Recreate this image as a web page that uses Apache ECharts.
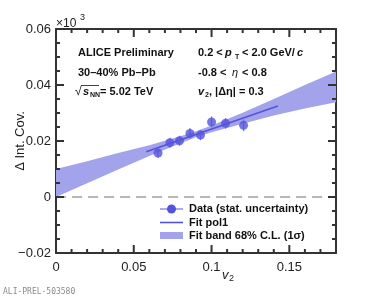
<!DOCTYPE html>
<html><head><meta charset="utf-8">
<script src="https://cdn.jsdelivr.net/npm/echarts@6/dist/echarts.min.js"></script>
<style>html,body{margin:0;padding:0;background:#fff}#c{width:374px;height:297px}</style>
</head><body><div id="c"></div>
<script>
// ---- data ----
const v2Values  = [0.0656, 0.0732, 0.0794, 0.0861, 0.0929, 0.1000, 0.1090, 0.1206];
const covValues = [0.0157, 0.0194, 0.0201, 0.0227, 0.0221, 0.0268, 0.0263, 0.0256];
const covErrors = [0.0018, 0.0018, 0.0018, 0.0019, 0.0018, 0.0020, 0.0019, 0.0021];
const fitX = [0.058, 0.1426];
const fitY = [0.0162, 0.0325];
const bandX    = [0.00, 0.02, 0.04, 0.06, 0.08, 0.09, 0.10, 0.12, 0.14, 0.16, 0.18];
const bandLow  = [0.0000, 0.0049, 0.0098, 0.0146, 0.0192, 0.0213, 0.0231, 0.0262, 0.0291, 0.0316, 0.0338];
const bandHigh = [0.0100, 0.0128, 0.0157, 0.0185, 0.0217, 0.0235, 0.0255, 0.0301, 0.0350, 0.0400, 0.0448];
const zeroLineX = [0, 0.18];
const xRange = [0, 0.18];
const yRange = [-0.02, 0.06];
const xMajorTicks = [0, 0.05, 0.10, 0.15];
const xMinorTicks = [0.01, 0.02, 0.03, 0.04, 0.06, 0.07, 0.08, 0.09, 0.11, 0.12, 0.13, 0.14, 0.16, 0.17];
const yMajorTicks = [-0.02, 0, 0.02, 0.04, 0.06];
const yMinorTicks = [-0.015, -0.01, -0.005, 0.005, 0.01, 0.015, 0.025, 0.03, 0.035, 0.045, 0.05, 0.055];
const legendLabels = ['Data (stat. uncertainty)', 'Fit pol1', 'Fit band 68% C.L. (1σ)'];

const BLUE = '#5353dc';
const BAND = '#a3a3ec';
const AX = '#333333';
const FONT = '"Liberation Sans", Arial, Helvetica, sans-serif';

const chart = echarts.init(document.getElementById('c'));

function yFmt(v) {
  if (Math.abs(v) < 1e-9) return '0';
  const s = Math.abs(v).toFixed(2);
  return v < 0 ? '\u22120' + s.slice(1) : s;
}
function xFmt(v) {
  const r = Math.round(v * 100) / 100;
  if (Math.abs(r / 0.05 - Math.round(r / 0.05)) > 1e-6) return '';
  if (r === 0) return '0';
  return String(r);
}

// tick records: [value, position on other axis, axis(0=x,1=y), length]
const tickData = []
  .concat(xMajorTicks.map(v => [v, 0, 0, 8]))
  .concat(xMinorTicks.map(v => [v, 0, 0, 4]))
  .concat(yMajorTicks.map(v => [0, v, 1, 8]))
  .concat(yMinorTicks.map(v => [0, v, 1, 4]));

const option = {
  animation: false,
  backgroundColor: '#fff',
  grid: {left: 56, right: 38, top: 29, bottom: 44},
  xAxis: [
    {type: 'value', min: xRange[0], max: xRange[1], interval: 0.05, position: 'bottom',
      axisLine: {show: true, onZero: false, lineStyle: {color: AX, width: 2}},
      axisTick: {show: false}, splitLine: {show: false},
      axisLabel: {show: true, formatter: xFmt, showMaxLabel: false, margin: 8, color: '#222', fontSize: 13, fontFamily: FONT}},
    {type: 'value', min: xRange[0], max: xRange[1], interval: 0.05, position: 'top',
      axisLine: {show: true, onZero: false, lineStyle: {color: AX, width: 2}},
      axisTick: {show: false}, splitLine: {show: false}, axisLabel: {show: false}}
  ],
  yAxis: [
    {type: 'value', min: yRange[0], max: yRange[1], interval: 0.02, position: 'left',
      axisLine: {show: true, onZero: false, lineStyle: {color: AX, width: 2}},
      axisTick: {show: false}, splitLine: {show: false},
      axisLabel: {show: true, formatter: yFmt, margin: 5, color: '#222', fontSize: 13, fontFamily: FONT}},
    {type: 'value', min: yRange[0], max: yRange[1], interval: 0.02, position: 'right',
      axisLine: {show: true, onZero: false, lineStyle: {color: AX, width: 2}},
      axisTick: {show: false}, splitLine: {show: false}, axisLabel: {show: false}}
  ],
  series: [
    {
      type: 'custom', name: 'band', xAxisIndex: 0, yAxisIndex: 0, z: 1, silent: true,
      data: [0],
      renderItem: function (params, api) {
        const pts = [];
        for (let i = 0; i < bandX.length; i++) pts.push(api.coord([bandX[i], bandHigh[i]]));
        for (let i = bandX.length - 1; i >= 0; i--) pts.push(api.coord([bandX[i], bandLow[i]]));
        return {type: 'polygon', shape: {points: pts}, style: {fill: BAND, stroke: null}};
      }
    },
    {
      type: 'line', name: 'zero', xAxisIndex: 0, yAxisIndex: 0, z: 2, silent: true,
      data: zeroLineX.map(x => [x, 0]), symbol: 'none',
      lineStyle: {color: '#a0a0a0', width: 1.5, type: [10, 6]}
    },
    {
      type: 'line', name: 'fit', xAxisIndex: 0, yAxisIndex: 0, z: 3, silent: true,
      data: fitX.map((x, i) => [x, fitY[i]]), symbol: 'none',
      lineStyle: {color: BLUE, width: 1.6}
    },
    {
      type: 'custom', name: 'err', xAxisIndex: 0, yAxisIndex: 0, z: 4, silent: true,
      data: v2Values.map((x, i) => [x, covValues[i], covErrors[i]]),
      renderItem: function (params, api) {
        const x = api.value(0), y = api.value(1), e = api.value(2);
        const a = api.coord([x, y - e]), b = api.coord([x, y + e]);
        return {type: 'line', shape: {x1: a[0], y1: a[1], x2: b[0], y2: b[1]},
          style: {stroke: '#7b7be6', lineWidth: 1.2}};
      }
    },
    {
      type: 'scatter', name: 'data', xAxisIndex: 0, yAxisIndex: 0, z: 5, silent: true,
      data: v2Values.map((x, i) => [x, covValues[i]]),
      symbol: 'circle', symbolSize: 9, itemStyle: {color: BLUE}
    },
    {
      type: 'custom', name: 'ticks', xAxisIndex: 0, yAxisIndex: 0, z: 10, silent: true, clip: false,
      data: tickData,
      renderItem: function (params, api) {
        const xv = api.value(0), yv = api.value(1), ax = api.value(2), len = api.value(3);
        const left = api.coord([xRange[0], yRange[0]]);
        const right = api.coord([xRange[1], yRange[1]]);
        const xl = left[0], yb = left[1], xr = right[0], yt = right[1];
        const st = {stroke: AX, lineWidth: 2};
        if (ax === 0) {
          const x = api.coord([xv, yRange[0]])[0];
          return {type: 'group', children: [
            {type: 'line', shape: {x1: x, y1: yb, x2: x, y2: yb - len}, style: st},
            {type: 'line', shape: {x1: x, y1: yt, x2: x, y2: yt + len}, style: st}
          ]};
        }
        const y = api.coord([xRange[0], yv])[1];
        return {type: 'group', children: [
          {type: 'line', shape: {x1: xl, y1: y, x2: xl + len, y2: y}, style: st},
          {type: 'line', shape: {x1: xr, y1: y, x2: xr - len, y2: y}, style: st}
        ]};
      }
    }
  ],
  graphic: [
    {type: 'text', x: 20, y: 141, rotation: Math.PI / 2, style: {text: '\u0394 Int. Cov.', font: '13px ' + FONT, fill: '#222', align: 'center', verticalAlign: 'middle'}},
    {type: 'text', x: 222, y: 275, style: {text: 'v', font: 'italic 13px ' + FONT, fill: '#222', verticalAlign: 'middle'}},
    {type: 'text', x: 229, y: 279, style: {text: '2', font: '9px ' + FONT, fill: '#222', verticalAlign: 'middle'}},
    {type: 'text', x: 56, y: 24, style: {text: '\u00d710', font: '12px ' + FONT, fill: '#222', verticalAlign: 'middle'}},
    {type: 'text', x: 80, y: 18, style: {text: '3', font: '9px ' + FONT, fill: '#222', verticalAlign: 'middle'}},
    {type: 'text', x: 78, y: 53, style: {text: 'ALICE Preliminary', font: 'bold 11px ' + FONT, fill: '#111', verticalAlign: 'middle'}},
    {type: 'text', x: 78, y: 73, style: {text: '30\u201340% Pb\u2013Pb', font: 'bold 11px ' + FONT, fill: '#111', verticalAlign: 'middle'}},
    {type: 'text', x: 75, y: 92, style: {text: '\u221a', font: '12px ' + FONT, fill: '#111', verticalAlign: 'middle'}},
    {type: 'line', shape: {x1: 81, y1: 85.5, x2: 99, y2: 85.5}, style: {stroke: '#111', lineWidth: 0.8}},
    {type: 'text', x: 83, y: 92, style: {text: 's', font: 'italic bold 11px ' + FONT, fill: '#111', verticalAlign: 'middle'}},
    {type: 'text', x: 90, y: 95, style: {text: 'NN', font: 'bold 7px ' + FONT, fill: '#111', verticalAlign: 'middle'}},
    {type: 'text', x: 100, y: 92, style: {text: '= 5.02 TeV', font: 'bold 11px ' + FONT, fill: '#111', verticalAlign: 'middle'}},
    {type: 'text', x: 198, y: 53, style: {text: '0.2 <', font: 'bold 11px ' + FONT, fill: '#111', verticalAlign: 'middle'}},
    {type: 'text', x: 225, y: 53, style: {text: 'p', font: 'italic bold 11px ' + FONT, fill: '#111', verticalAlign: 'middle'}},
    {type: 'text', x: 235, y: 57, style: {text: 'T', font: 'bold 7px ' + FONT, fill: '#111', verticalAlign: 'middle'}},
    {type: 'text', x: 242, y: 53, style: {text: '< 2.0 GeV/', font: 'bold 11px ' + FONT, fill: '#111', verticalAlign: 'middle'}},
    {type: 'text', x: 297, y: 53, style: {text: 'c', font: 'italic bold 11px ' + FONT, fill: '#111', verticalAlign: 'middle'}},
    {type: 'text', x: 198, y: 73, style: {text: '-0.8 <', font: 'bold 11px ' + FONT, fill: '#111', verticalAlign: 'middle'}},
    {type: 'text', x: 232, y: 73, style: {text: '\u03b7', font: 'italic 11px ' + FONT, fill: '#111', verticalAlign: 'middle'}},
    {type: 'text', x: 242, y: 73, style: {text: '< 0.8', font: 'bold 11px ' + FONT, fill: '#111', verticalAlign: 'middle'}},
    {type: 'text', x: 198, y: 92, style: {text: 'v', font: 'italic bold 11px ' + FONT, fill: '#111', verticalAlign: 'middle'}},
    {type: 'text', x: 205, y: 95, style: {text: '2', font: 'bold 7px ' + FONT, fill: '#111', verticalAlign: 'middle'}},
    {type: 'text', x: 209, y: 92, style: {text: ', |\u0394\u03b7| = 0.3', font: 'bold 11px ' + FONT, fill: '#111', verticalAlign: 'middle'}},
    {type: 'line', shape: {x1: 160, y1: 209, x2: 183, y2: 209}, style: {stroke: BLUE, lineWidth: 1}},
    {type: 'circle', shape: {cx: 171.5, cy: 209, r: 4.5}, style: {fill: BLUE}},
    {type: 'line', shape: {x1: 160, y1: 222.5, x2: 183, y2: 222.5}, style: {stroke: BLUE, lineWidth: 1.6}},
    {type: 'rect', shape: {x: 160, y: 232, width: 23, height: 7}, style: {fill: BAND}},
    {type: 'text', x: 189, y: 209, style: {text: legendLabels[0], font: 'bold 11px ' + FONT, fill: '#111', verticalAlign: 'middle'}},
    {type: 'text', x: 189, y: 222.5, style: {text: legendLabels[1], font: 'bold 11px ' + FONT, fill: '#111', verticalAlign: 'middle'}},
    {type: 'text', x: 189, y: 236, style: {text: legendLabels[2], font: 'bold 11px ' + FONT, fill: '#111', verticalAlign: 'middle'}},
    {type: 'text', x: 3, y: 292, style: {text: 'ALI-PREL-503580', font: '8px "DejaVu Sans Mono", "Liberation Mono", monospace', fill: '#8a8a8a', verticalAlign: 'middle'}}
  ]
};
chart.setOption(option);
</script>
</body></html>
